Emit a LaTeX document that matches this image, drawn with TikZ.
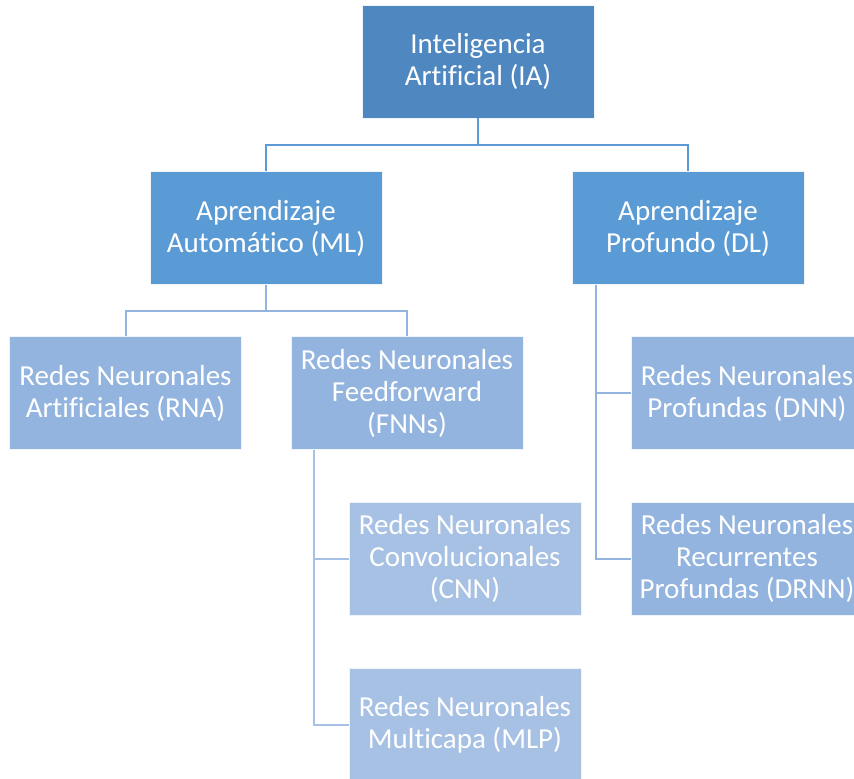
\documentclass[tikz,border=0pt]{standalone}
\usepackage{fontspec}
\setmainfont{Carlito}[Ligatures=CommonOff]
\usepackage{tikz}
\usepackage{xcolor}
\usetikzlibrary{positioning, calc}

\definecolor{topblue}{HTML}{4F87C0}
\definecolor{midblue}{HTML}{5B9BD5}
\definecolor{lowblue}{HTML}{92B4DF}
\definecolor{leafblue}{HTML}{A7C1E4}

\begin{document}
\begin{tikzpicture}[
  x=1pt, y=-1pt,
  font=\fontsize{29}{32}\selectfont,
  box/.style={draw=white!85!lowblue, line width=0.8pt, minimum width=232pt, minimum height=113pt, align=center, text=white, inner sep=2pt},
  link/.style={line width=2pt}
]
\useasboundingbox (0,0) rectangle (854,779);
\clip (0,0) rectangle (854,779);

% top level
\node[box, fill=topblue] (ia) at (478,61.5) {Inteligencia\\Artificial (IA)};
% second level
\node[box, fill=midblue] (ml) at (266,228) {Aprendizaje\\Automático (ML)};
\node[box, fill=midblue] (dl) at (688,228) {Aprendizaje\\Profundo (DL)};
% third level
\node[box, fill=lowblue] (rna) at (125.5,393) {Redes Neuronales\\Artificiales (RNA)};
\node[box, fill=lowblue] (fnn) at (407,393) {Redes Neuronales\\Feedforward\\(FNNs)};
\node[box, fill=lowblue] (dnn) at (747,393) {Redes Neuronales\\Profundas (DNN)};
\node[box, fill=lowblue] (drnn) at (747,558.5) {Redes Neuronales\\Recurrentes\\Profundas (DRNN)};
% leaves
\node[box, fill=leafblue] (cnn) at (465,558.5) {Redes Neuronales\\Convolucionales\\(CNN)};
\node[box, fill=leafblue] (mlp) at (465,724.5) {Redes Neuronales\\Multicapa (MLP)};

% connectors
\draw[link, midblue] (ia.south) -- ++(0,27) -| (ml.north);
\draw[link, midblue] (ia.south) -- ++(0,27) -| (dl.north);
\draw[link, lowblue] (ml.south) -- ++(0,26) -| (rna.north);
\draw[link, lowblue] (ml.south) -- ++(0,26) -| (fnn.north);
\draw[link, leafblue] ([xshift=23pt]fnn.south west) |- (cnn.west);
\draw[link, leafblue] ([xshift=23pt]fnn.south west) |- (mlp.west);
\draw[link, lowblue] ([xshift=24pt]dl.south west) |- (dnn.west);
\draw[link, lowblue] ([xshift=24pt]dl.south west) |- (drnn.west);
\end{tikzpicture}
\end{document}
